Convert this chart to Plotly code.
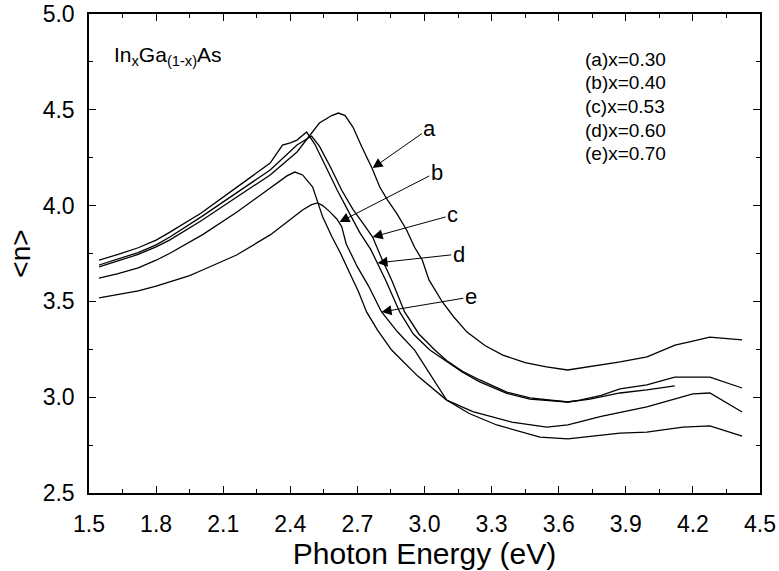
import plotly.graph_objects as go

# ---- data (photon energy in eV, refractive index <n>) ----
E_a = [1.545, 1.63, 1.72, 1.80, 1.86, 2.0, 2.16, 2.31, 2.43, 2.53, 2.585, 2.615, 2.645, 2.68, 2.72, 2.765, 2.80,
       2.835, 2.875, 2.92, 2.955, 2.99, 3.02, 3.08, 3.13, 3.19, 3.27, 3.35, 3.45, 3.545, 3.64, 3.695, 3.79,
       3.875, 3.995, 4.12, 4.19, 4.275, 4.42]
n_a = [3.68, 3.71, 3.745, 3.785, 3.82, 3.92, 4.045, 4.160, 4.28, 4.431, 4.47, 4.483, 4.47, 4.41, 4.306, 4.196,
       4.097, 4.029, 3.961, 3.873, 3.784, 3.716, 3.612, 3.497, 3.42, 3.34, 3.27, 3.22, 3.18, 3.158, 3.142, 3.152,
       3.17, 3.184, 3.21, 3.272, 3.29, 3.314, 3.299]

E_p1 = [1.545, 1.63, 1.72, 1.80, 1.86, 2.0, 2.16, 2.31, 2.365, 2.40, 2.43, 2.473, 2.51, 2.56, 2.61, 2.66, 2.71,
        2.76, 2.79, 2.826, 2.889, 2.95, 3.024, 3.10, 3.17, 3.247, 3.368, 3.471, 3.641, 3.695, 3.79, 3.874,
        3.994, 4.119, 4.276, 4.42]
n_p1 = [3.716, 3.745, 3.78, 3.82, 3.86, 3.96, 4.095, 4.222, 4.316, 4.327, 4.342, 4.384, 4.32, 4.20, 4.08, 3.97,
        3.86, 3.77, 3.70, 3.612, 3.445, 3.33, 3.246, 3.184, 3.13, 3.08, 3.02, 2.99, 2.975, 2.985, 3.01, 3.043,
        3.064, 3.105, 3.105, 3.048]

E_p2 = [1.545, 1.63, 1.72, 1.80, 1.86, 2.0, 2.16, 2.31, 2.43, 2.48, 2.495, 2.53, 2.58, 2.63, 2.68, 2.73, 2.768,
        2.81, 2.853, 2.911, 2.975, 3.046, 3.10, 3.17, 3.247, 3.368, 3.471, 3.641, 3.74, 3.874, 3.994, 4.119]
n_p2 = [3.69, 3.72, 3.755, 3.795, 3.835, 3.94, 4.065, 4.186, 4.316, 4.353, 4.363, 4.31, 4.20, 4.08, 3.98, 3.90,
        3.836, 3.72, 3.612, 3.445, 3.33, 3.246, 3.19, 3.135, 3.09, 3.027, 2.996, 2.975, 2.99, 3.022, 3.038, 3.059]

E_c = [1.545, 1.63, 1.72, 1.80, 1.86, 2.01, 2.16, 2.31, 2.385, 2.42, 2.455, 2.50, 2.522, 2.545, 2.585, 2.625,
       2.665, 2.705, 2.741, 2.79, 2.853, 2.97, 3.099, 3.216, 3.39, 3.547, 3.641, 3.79, 3.994, 4.20, 4.276, 4.42]
n_c = [3.622, 3.645, 3.675, 3.715, 3.75, 3.85, 3.965, 4.09, 4.155, 4.175, 4.160, 4.097, 4.019, 3.94, 3.84, 3.75,
       3.65, 3.55, 3.445, 3.35, 3.246, 3.11, 2.985, 2.925, 2.87, 2.844, 2.855, 2.90, 2.949, 3.017, 3.022, 2.923]

E_b = [1.545, 1.63, 1.72, 1.80, 1.95, 2.0, 2.16, 2.31, 2.455, 2.495, 2.522, 2.545, 2.575, 2.608, 2.63, 2.65,
       2.70, 2.75, 2.808, 2.88, 2.956, 3.099, 3.20, 3.323, 3.516, 3.641, 3.874, 3.994, 4.155, 4.276, 4.42]
n_b = [3.518, 3.535, 3.555, 3.58, 3.635, 3.66, 3.742, 3.847, 3.977, 4.005, 4.014, 4.00, 3.97, 3.93, 3.89, 3.80,
       3.68, 3.58, 3.445, 3.34, 3.246, 2.985, 2.915, 2.855, 2.792, 2.782, 2.813, 2.818, 2.844, 2.850, 2.797]

series = [(E_a, n_a), (E_p1, n_p1), (E_p2, n_p2), (E_c, n_c), (E_b, n_b)]

# curve labels: text, text position (E, n), arrow tip (E, n)
label_text = ["a", "b", "c", "d", "e"]
label_pos = [(3.024, 4.405), (3.055, 4.175), (3.126, 3.951), (3.153, 3.747), (3.207, 3.523)]
label_tip = [(2.768, 4.196), (2.620, 3.914), (2.768, 3.836), (2.790, 3.701), (2.808, 3.445)]

legend_lines = ["(a)x=0.30", "(b)x=0.40", "(c)x=0.53", "(d)x=0.60", "(e)x=0.70"]

FONT = "Liberation Sans, Arial, Helvetica, sans-serif"

fig = go.Figure()
for E, n in series:
    fig.add_trace(go.Scatter(x=E, y=n, mode="lines",
                             line=dict(color="black", width=1.3),
                             showlegend=False, hoverinfo="skip"))

ann = []
for t, (tx, ty), (px, py) in zip(label_text, label_pos, label_tip):
    ann.append(dict(x=px, y=py, ax=tx, ay=ty, xref="x", yref="y", axref="x", ayref="y",
                    text=t, showarrow=True, arrowhead=2, arrowsize=2, arrowwidth=1,
                    arrowcolor="black", standoff=0, startstandoff=0,
                    font=dict(family=FONT, size=22, color="black")))

legend_y = [0.906, 0.856, 0.806, 0.756, 0.708]
for t, yy in zip(legend_lines, legend_y):
    ann.append(dict(x=0.736, y=yy, xref="paper", yref="paper", xanchor="left", yanchor="middle",
                    text=t, showarrow=False, font=dict(family=FONT, size=19, color="black")))

ann.append(dict(x=0.034, y=0.912, xref="paper", yref="paper", xanchor="left", yanchor="middle",
                text="In<sub>x</sub>Ga<sub>(1-x)</sub>As", showarrow=False,
                font=dict(family=FONT, size=21, color="black")))

axis_common = dict(showgrid=False, zeroline=False, showline=True, linecolor="black", linewidth=1.5,
                   mirror="allticks", ticks="inside", ticklen=7, tickwidth=1, tickcolor="black",
                   automargin=False,
                   tickfont=dict(family=FONT, size=23, color="black"), tickformat=".1f")

fig.update_layout(
    width=779, height=571,
    margin=dict(l=89, r=19, t=14, b=78),
    plot_bgcolor="white", paper_bgcolor="white",
    annotations=ann,
    xaxis=dict(range=[1.5, 4.5], tickmode="linear", tick0=1.5, dtick=0.3,
               minor=dict(ticks="inside", ticklen=4, tickcolor="black", dtick=0.15, tick0=1.5),
               ticklabelstandoff=10,
               title=dict(text="Photon Energy (eV)", font=dict(family=FONT, size=30, color="black"),
                          standoff=6),
               **axis_common),
    yaxis=dict(range=[2.5, 5.0], tickmode="linear", tick0=2.5, dtick=0.5,
               minor=dict(ticks="inside", ticklen=4, tickcolor="black", dtick=0.25, tick0=2.5),
               ticklabelstandoff=8,
               title=dict(text="&lt;n&gt;", font=dict(family=FONT, size=28, color="black"),
                          standoff=4),
               **axis_common),
)

fig.write_html("out.html")
